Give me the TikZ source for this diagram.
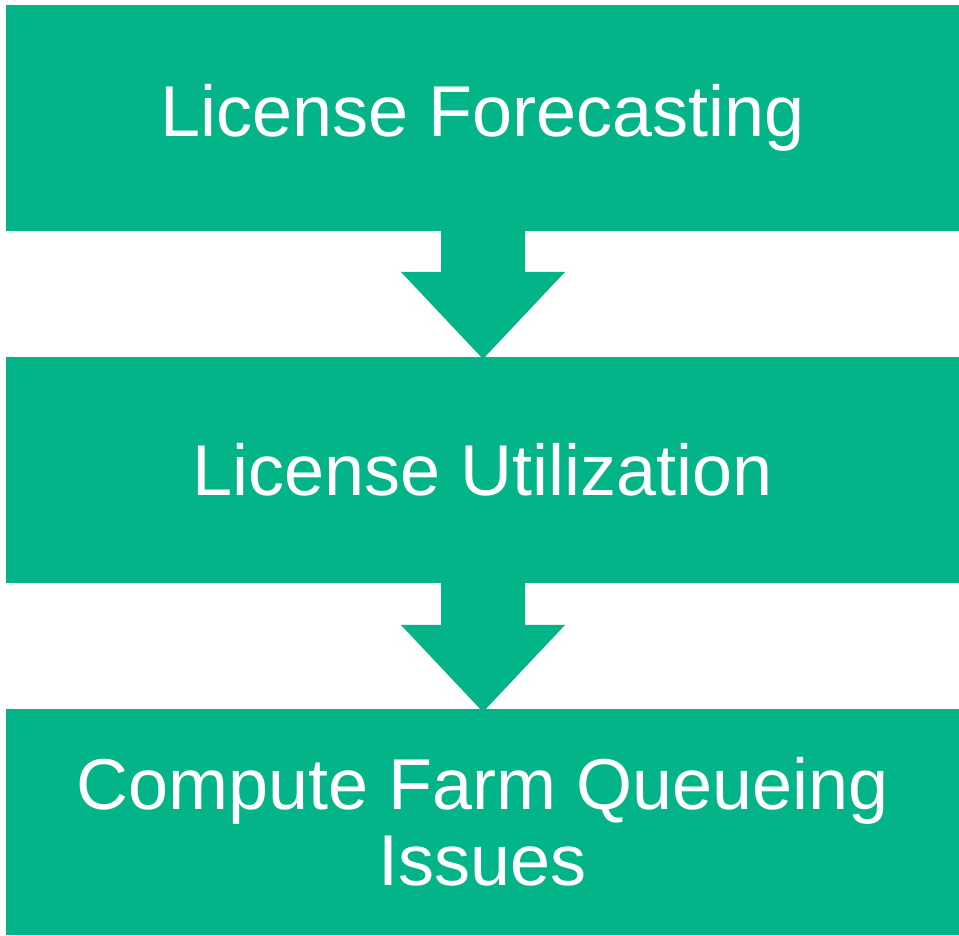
\documentclass[tikz,border=0pt]{standalone}
\usepackage{fontspec}
\setmainfont{Liberation Sans}
\definecolor{boxgreen}{RGB}{3,180,136}
\begin{document}
\begin{tikzpicture}[x=1pt,y=1pt,
  stagebox/.style={fill=boxgreen,draw=none,minimum width=953pt,minimum height=226pt,inner sep=0pt,
    text=white,font=\fontsize{72}{76}\selectfont,align=center,anchor=south west},
  flowarrow/.style={fill=boxgreen,draw=none}]
\useasboundingbox (0,0) rectangle (959,935);
\node[stagebox] (b3) at (6,0) {Compute Farm Queueing\\Issues};
\node[stagebox] (b2) at (6,352) {License Utilization};
\node[stagebox] (b1) at (6,704) {License Forecasting};
\fill[flowarrow] (441,705) -- (441,663) -- (401,663) -- (483,576) -- (565,663) -- (525,663) -- (525,705) -- cycle;
\fill[flowarrow] (441,353) -- (441,310) -- (401,310) -- (483,223) -- (565,310) -- (525,310) -- (525,353) -- cycle;
\end{tikzpicture}
\end{document}
